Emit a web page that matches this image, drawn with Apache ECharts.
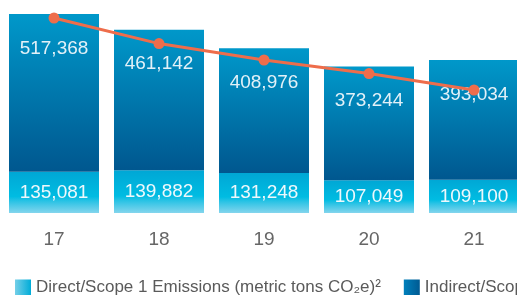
<!DOCTYPE html>
<html lang="en">
<head>
    <meta charset="UTF-8">
    <title>Emissions</title>
    <script src="https://cdn.jsdelivr.net/npm/echarts@6/dist/echarts.min.js"></script>
    <style>
        html, body { margin: 0; padding: 0; background: #fff; overflow: hidden; }
        /* chart is a bit wider than the window, the right edge is cut like in the original */
        #chart { width: 527px; height: 295px; }
    </style>
</head>
<body>
    <div id="chart"></div>
    <script>
        // data
        var years = ['17', '18', '19', '20', '21'];
        var scope1 = [135081, 139882, 131248, 107049, 109100];
        var scope2 = [517368, 461142, 408976, 373244, 393034];
        // trend line (no labels in the picture, estimated on a 0-100 scale)
        var trend = [97.5, 84.7, 76.5, 69.7, 61.5];

        var fmt = function (p) { return p.value.toLocaleString('en-US'); };

        var myChart = echarts.init(document.getElementById('chart'));
        var option = {
            animation: false,
            textStyle: { fontFamily: 'Liberation Sans, Arial, sans-serif' },
            grid: { left: 1.5, right: 0.5, top: 13, bottom: 82 },
            legend: {
                left: 10,
                top: 274,
                width: 1200,
                itemWidth: 16,
                itemHeight: 16,
                itemGap: 23,
                icon: 'rect',
                textStyle: { color: '#5a5a5a', fontSize: 17 },
                data: [
                    {
                        name: 'Direct/Scope 1 Emissions (metric tons CO₂e)²',
                        itemStyle: {
                            color: new echarts.graphic.LinearGradient(0, 0, 1, 0, [
                                { offset: 0, color: '#74cfe8' },
                                { offset: 1, color: '#00acd8' }
                            ])
                        }
                    },
                    {
                        name: 'Indirect/Scope 2 Emissions (metric tons CO₂e)',
                        itemStyle: {
                            color: new echarts.graphic.LinearGradient(0, 0, 1, 0, [
                                { offset: 0, color: '#0080bc' },
                                { offset: 1, color: '#005a92' }
                            ])
                        }
                    }
                ]
            },
            xAxis: {
                type: 'category',
                data: years,
                axisLine: { show: false },
                axisTick: { show: false },
                axisLabel: { color: '#666', fontSize: 19, margin: 17 }
            },
            yAxis: [
                { type: 'value', min: 0, max: 656000, show: false },
                { type: 'value', min: 0, max: 100, show: false }
            ],
            series: [
                {
                    name: 'Direct/Scope 1 Emissions (metric tons CO₂e)²',
                    type: 'bar',
                    stack: 'total',
                    barWidth: 90,
                    data: scope1,
                    itemStyle: {
                        color: new echarts.graphic.LinearGradient(0, 0, 0, 1, [
                            { offset: 0, color: '#00a7d5' },
                            { offset: 0.6, color: '#00bce2' },
                            { offset: 0.72, color: '#2cc3e5' },
                            { offset: 1, color: '#84d5ed' }
                        ])
                    },
                    label: {
                        show: true,
                        position: 'inside',
                        color: '#eef8fc',
                        fontSize: 19,
                        formatter: fmt
                    }
                },
                {
                    name: 'Indirect/Scope 2 Emissions (metric tons CO₂e)',
                    type: 'bar',
                    stack: 'total',
                    barWidth: 90,
                    data: scope2,
                    itemStyle: {
                        color: new echarts.graphic.LinearGradient(0, 0, 0, 1, [
                            { offset: 0, color: '#0098ca' },
                            { offset: 1, color: '#00578f' }
                        ])
                    },
                    label: {
                        show: true,
                        position: 'insideTop',
                        distance: 25,
                        color: '#e2f1f8',
                        fontSize: 19,
                        formatter: fmt
                    }
                },
                {
                    name: 'Trend',
                    type: 'line',
                    yAxisIndex: 1,
                    data: trend,
                    symbol: 'circle',
                    symbolSize: 11,
                    z: 5,
                    lineStyle: { color: '#ee6d4b', width: 3 },
                    itemStyle: { color: '#ee6d4b' }
                }
            ]
        };
        myChart.setOption(option);
    </script>
</body>
</html>
